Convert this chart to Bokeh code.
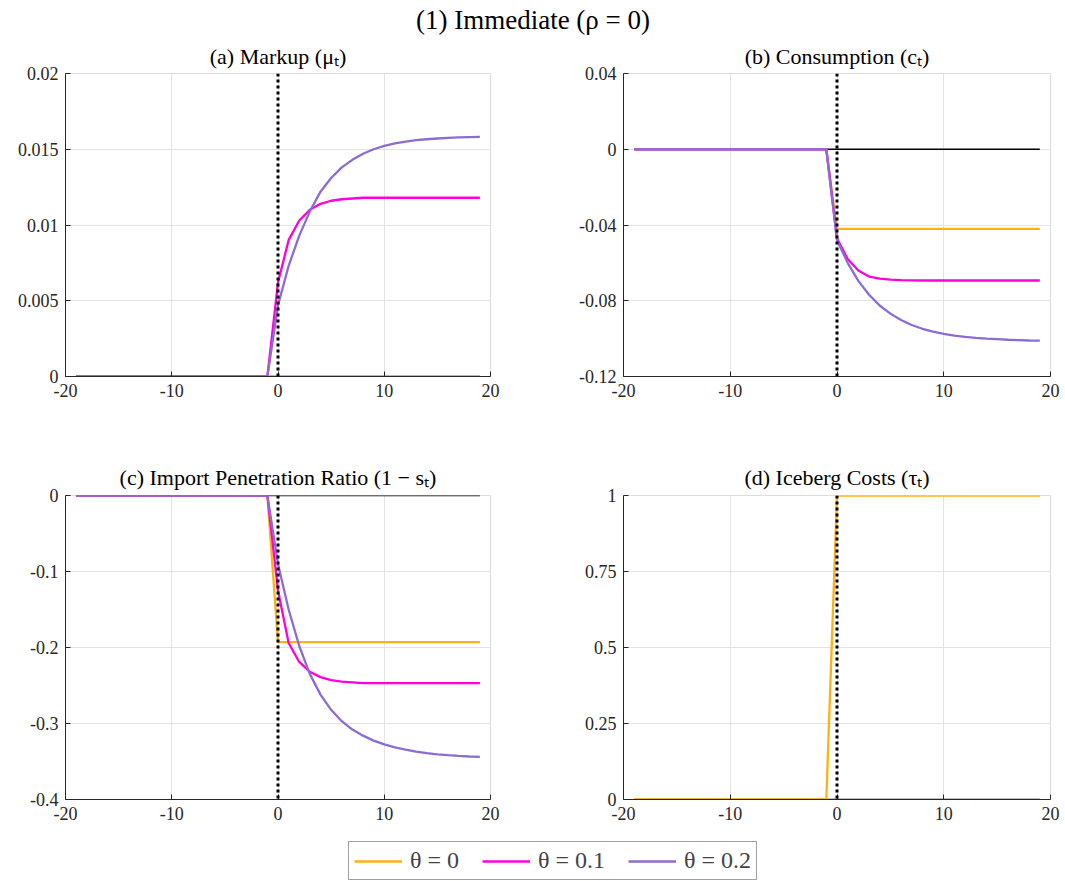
from bokeh.plotting import figure
from bokeh.layouts import column, row
from bokeh.models import Span, FixedTicker, Legend, LegendItem, Range1d
from bokeh.core.properties import value
from bokeh.embed import file_html
from bokeh.resources import INLINE

# ---------------- data ----------------
t = list(range(-19, 20))
PRE = [0.0] * 19  # all series are zero before the shock (t = -19 .. -1)

zero_line = [0.0] * 39

# (a) Markup
mu_th0 = PRE + [0.0] * 20
mu_th1 = PRE + [0.0062, 0.0090, 0.0103, 0.0110, 0.0114, 0.0116, 0.0117, 0.01175, 0.0118, 0.0118,
                0.0118, 0.0118, 0.0118, 0.0118, 0.0118, 0.0118, 0.0118, 0.0118, 0.0118, 0.0118]
mu_th2 = PRE + [0.0047, 0.0073, 0.0093, 0.0109, 0.0122, 0.0131, 0.0138, 0.0143, 0.0147, 0.01500,
                0.01522, 0.01539, 0.01551, 0.01560, 0.01566, 0.01571, 0.01575, 0.01578, 0.01580, 0.01582]

# (b) Consumption
c_th0 = PRE + [-0.042] * 20
c_th1 = PRE + [-0.047, -0.058, -0.064, -0.0672, -0.0683, -0.0688, -0.0691, -0.0692, -0.0693, -0.0693,
               -0.0693, -0.0693, -0.0693, -0.0693, -0.0693, -0.0693, -0.0693, -0.0693, -0.0693, -0.0693]
c_th2 = PRE + [-0.048, -0.060, -0.0695, -0.0768, -0.0825, -0.0868, -0.0902, -0.0928, -0.0948, -0.0963,
               -0.0975, -0.0984, -0.0991, -0.0996, -0.1000, -0.1003, -0.1006, -0.1008, -0.1010, -0.1011]

# (c) Import penetration ratio
s_th0 = PRE + [-0.193] * 20
s_th1 = PRE + [-0.125, -0.194, -0.219, -0.232, -0.239, -0.243, -0.245, -0.246, -0.247, -0.247,
               -0.247, -0.247, -0.247, -0.247, -0.247, -0.247, -0.247, -0.247, -0.247, -0.247]
s_th2 = PRE + [-0.090, -0.150, -0.198, -0.235, -0.262, -0.282, -0.297, -0.308, -0.316, -0.3225,
               -0.3275, -0.3315, -0.3345, -0.337, -0.339, -0.3405, -0.3417, -0.3427, -0.3434, -0.344]

# (d) Iceberg costs
tau_th0 = PRE + [1.0] * 20

x_ticks = [-20, -10, 0, 10, 20]
x_labels = ["-20", "-10", "0", "10", "20"]

a_ticks = [0, 0.005, 0.01, 0.015, 0.02]
a_labels = ["0", "0.005", "0.01", "0.015", "0.02"]
b_ticks = [-0.12, -0.08, -0.04, 0, 0.04]
b_labels = ["-0.12", "-0.08", "-0.04", "0", "0.04"]
c_ticks = [-0.4, -0.3, -0.2, -0.1, 0]
c_labels = ["-0.4", "-0.3", "-0.2", "-0.1", "0"]
d_ticks = [0, 0.25, 0.5, 0.75, 1]
d_labels = ["0", "0.25", "0.5", "0.75", "1"]

titles = ["(a) Markup (μₜ)", "(b) Consumption (cₜ)",
          "(c) Import Penetration Ratio (1 − sₜ)", "(d) Iceberg Costs (τₜ)"]
legend_labels = ["θ = 0", "θ = 0.1", "θ = 0.2"]
main_title = "(1) Immediate (ρ = 0)"

# ---------------- style ----------------
ORANGE = "#FFB20F"
MAGENTA = "#FF00DC"
PURPLE = "#8C6CD4"
FONT = "Liberation Serif"
AXC = "#262626"
W_L, W_R = 532, 533


def panel(title, ys, yr, yticks, ylabels, width, bl, br, height, bt, bb, standoff):
    p = figure(width=width, height=height, output_backend="svg", toolbar_location=None,
               x_range=Range1d(-20, 20), y_range=Range1d(*yr),
               min_border_left=bl, min_border_right=br, min_border_top=bt, min_border_bottom=bb)
    p.title.text = title
    p.title.align = "center"
    p.title.text_font = FONT
    p.title.text_font_size = "22px"
    p.title.text_font_style = "normal"
    p.title.text_color = "#000000"
    p.title.standoff = standoff
    p.outline_line_color = "#DDDDDD"
    p.outline_line_width = 1
    for ax, ticks, labels in ((p.xaxis, x_ticks, x_labels), (p.yaxis, yticks, ylabels)):
        ax.ticker = FixedTicker(ticks=ticks)
        ax.major_label_overrides = {tk: lb for tk, lb in zip(ticks, labels)}
        ax.minor_tick_line_color = None
        ax.major_tick_in = 5
        ax.major_tick_out = 0
        ax.axis_line_color = AXC
        ax.major_tick_line_color = AXC
        ax.major_label_text_font = FONT
        ax.major_label_text_font_size = "18px"
        ax.major_label_text_color = AXC
        ax.major_label_standoff = 7
    p.xgrid.ticker = FixedTicker(ticks=x_ticks)
    p.ygrid.ticker = FixedTicker(ticks=yticks)
    p.grid.grid_line_color = "#E3E3E3"
    p.grid.grid_line_width = 1
    p.background_fill_color = "white"
    p.border_fill_color = "white"
    p.line(t, zero_line, color="black", line_width=1.5)
    for y, col in zip(ys, (ORANGE, MAGENTA, PURPLE)):
        if y is not None:
            p.line(t, y, color=col, line_width=2.3)
    p.add_layout(Span(location=0, dimension="height", line_color="black",
                      line_width=3, line_dash="3 3"))
    return p


TITLE_H, TOP_H, BOT_H = 37, 418, 381
pa = panel(titles[0], (mu_th0, mu_th1, mu_th2), (0, 0.02), a_ticks, a_labels,
           W_L, 65, 42, TOP_H, 36, 79, 9)
pb = panel(titles[1], (c_th0, c_th1, c_th2), (-0.12, 0.04), b_ticks, b_labels,
           W_R, 91, 15, TOP_H, 36, 79, 9)
pc = panel(titles[2], (s_th0, s_th1, s_th2), (-0.4, 0), c_ticks, c_labels,
           W_L, 65, 42, BOT_H, 40, 37, 11)
pd = panel(titles[3], (tau_th0, None, None), (0, 1), d_ticks, d_labels,
           W_R, 91, 15, BOT_H, 40, 37, 11)

# main title
pt = figure(width=1065, height=TITLE_H, output_backend="svg", toolbar_location=None,
            x_range=Range1d(-1, 1), y_range=Range1d(-1, 1), min_border=0)
pt.axis.visible = False
pt.grid.visible = False
pt.outline_line_color = None
pt.text(x=[0], y=[-0.05], text=[main_title], text_font=value(FONT), text_font_size="27px",
        text_align="center", text_baseline="middle", text_color="black")

# legend figure
pl = figure(width=1065, height=45, output_backend="svg", toolbar_location=None,
            x_range=Range1d(0, 1), y_range=Range1d(0, 1), min_border=0)
pl.axis.visible = False
pl.grid.visible = False
pl.outline_line_color = None
items = []
for col, lab in zip((ORANGE, MAGENTA, PURPLE), legend_labels):
    r = pl.line([2, 3], [2, 3], color=col, line_width=2.3)
    items.append(LegendItem(label=lab, renderers=[r]))
leg = Legend(items=items, orientation="horizontal", location=(348, 1),
             label_text_font=FONT, label_text_font_size="24px", label_text_font_style="normal",
             glyph_width=48, glyph_height=20, label_standoff=8, spacing=23,
             padding=5, margin=0, border_line_color="#444444", border_line_width=1,
             background_fill_color="white", background_fill_alpha=1.0)
pl.add_layout(leg, "center")

layout = column(pt, row(pa, pb), row(pc, pd), pl, spacing=0)

open("out.html", "w").write(file_html(layout, INLINE))
